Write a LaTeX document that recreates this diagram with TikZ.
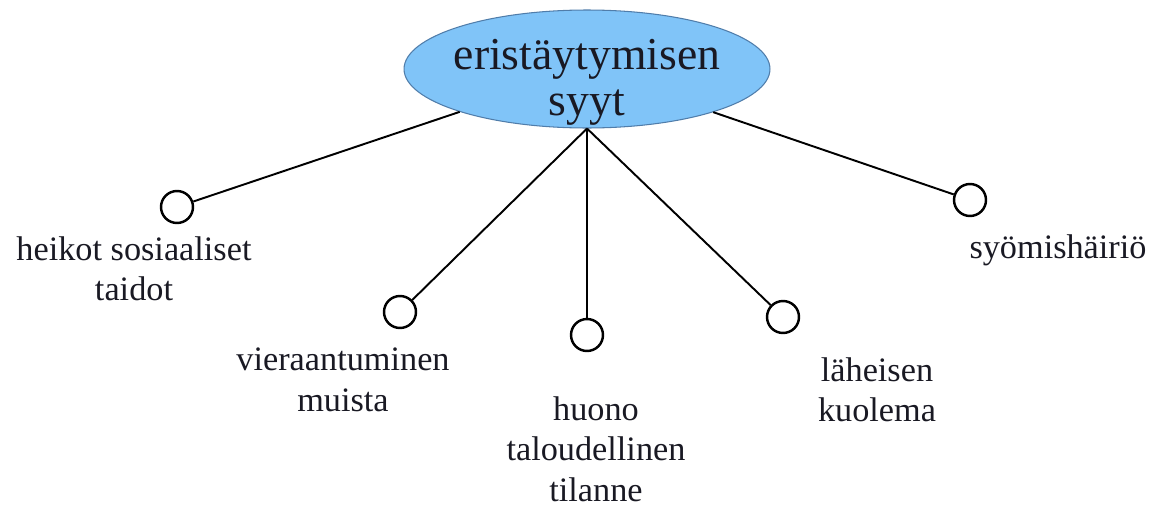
\documentclass[tikz,border=0pt]{standalone}
\usepackage{fontspec}
\setmainfont{Liberation Serif}
\usetikzlibrary{shapes.geometric}
\definecolor{skyfill}{RGB}{128,196,248}
\definecolor{skyline}{RGB}{80,125,170}
\definecolor{inkblack}{RGB}{25,25,35}

\begin{document}
\begin{tikzpicture}[x=0.02cm,y=-0.02cm,
    dot/.style={shape=circle,draw=black,line width=1.4pt,minimum size=0.64cm,inner sep=0pt},
    lbl/.style={align=center,text=inkblack,font=\fontsize{19.5}{23}\selectfont}]
    \useasboundingbox (0,0) rectangle (1162,507);
    \node[shape=ellipse,draw=skyline,fill=skyfill,line width=0.6pt,inner xsep=-4pt,inner ysep=-12pt,
          minimum width=7.32cm,minimum height=2.36cm,align=center,text=inkblack,
          font=\fontsize{26}{26}\selectfont] (E) at (587,69) {\rule{0pt}{32pt}eristäytymisen\\syyt};
    \node[dot] (A) at (177,207) {};
    \node[dot] (B) at (400,312) {};
    \node[dot] (C) at (587,335) {};
    \node[dot] (D) at (783,317) {};
    \node[dot] (F) at (970,200) {};
    \node[lbl] (a) at (134,269) {heikot sosiaaliset\\taidot};
    \node[lbl] (b) at (343,380) {vieraantuminen\\muista};
    \node[lbl] (c) at (596,449) {huono\\taloudellinen\\tilanne};
    \node[lbl] (d) at (877,390) {läheisen\\kuolema};
    \node[lbl] (f) at (1058,250) {syömishäiriö};
    \draw [line width=1.1pt](E) -- (A);
    \draw [line width=1.1pt](E.south) -- (B);
    \draw [line width=1.1pt](E.south) -- (C);
    \draw [line width=1.1pt](E.south) -- (D);
    \draw [line width=1.1pt](E) -- (F);
\end{tikzpicture}
\end{document}
